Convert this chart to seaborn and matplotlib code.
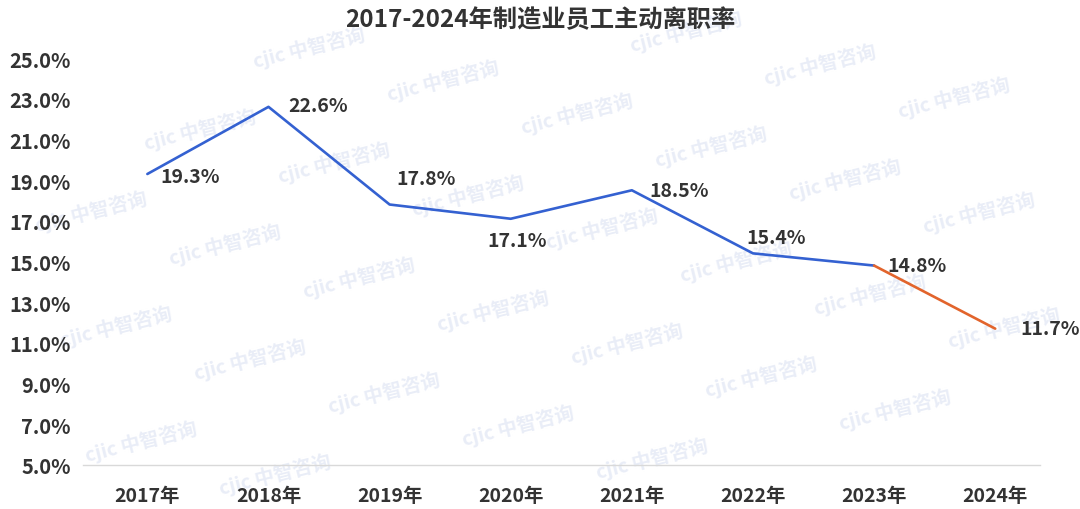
import numpy as np
import pandas as pd
import seaborn as sns
import matplotlib.pyplot as plt

# datos
years = ["2017年", "2018年", "2019年", "2020年", "2021年", "2022年", "2023年", "2024年"]
rates = [19.3, 22.6, 17.8, 17.1, 18.5, 15.4, 14.8, 11.7]
y_ticks = [5.0, 7.0, 9.0, 11.0, 13.0, 15.0, 17.0, 19.0, 21.0, 23.0, 25.0]
title = "2017-2024年制造业员工主动离职率"
watermark = "cjic 中智咨询"

# desplazamiento del borde izquierdo de cada etiqueta (pixeles)
label_offsets = [(13, -3), (20, 1), (7, 26), (-23, -22), (18, 0), (-7, 16), (13, 0), (25, 0)]

df = pd.DataFrame({"idx": range(len(years)), "year": years, "rate": rates})

sns.set_theme(style="white")
plt.rcParams["font.family"] = ["Noto Sans CJK SC", "DejaVu Sans"]

fig = plt.figure(figsize=(10.8, 5.1), dpi=100)
ax = fig.add_axes([0.077, 0.0863, 0.886, 0.798])
ax.patch.set_alpha(0)

# marca de agua (solo las que caben enteras), detras de todo
for i in range(-2, 7):
    for j in range(-3, 9):
        px = 175 + 134 * j + 25 * i
        py = 15 + 33 * j + 115 * i
        if 70 < px < 1010 and 25 < py < 490:
            fig.text(px / 1080, 1 - py / 510, watermark, rotation=14,
                     ha="center", va="center", fontsize=14, fontweight="bold",
                     color="#e9edf7", zorder=-5)

sns.lineplot(data=df.iloc[:7], x="idx", y="rate", color="#3461d1", linewidth=1.9, ax=ax)
sns.lineplot(data=df.iloc[6:], x="idx", y="rate", color="#e2642c", linewidth=1.9, ax=ax)

for x, y, (dx, dy) in zip(df["idx"], df["rate"], label_offsets):
    ax.annotate(f"{y:.1f}%", (x, y), xytext=(dx, dy), textcoords="offset pixels",
                ha="left", va="center", fontsize=14, color="#333333", fontweight="bold")

ax.set_xlim(-0.53, 7.37)
ax.set_ylim(5, 25)
ax.set_xticks(df["idx"])
ax.set_xticklabels(years)
ax.set_yticks(y_ticks)
ax.set_yticklabels([f"{v:.1f}%" for v in y_ticks])
ax.tick_params(axis="both", length=0, labelsize=14.5, colors="#333333")
ax.tick_params(axis="x", pad=15, labelsize=14)
ax.tick_params(axis="y", pad=9)
for lab in ax.get_xticklabels() + ax.get_yticklabels():
    lab.set_fontweight("bold")
ax.set_xlabel("")
ax.set_ylabel("")
sns.despine(ax=ax, left=True)
ax.spines["bottom"].set_color("#d9d9d9")
ax.spines["bottom"].set_linewidth(1)

fig.text(0.5, 1 - 20 / 510, title, ha="center", va="center", fontsize=17.5,
         fontweight="bold", color="#333333")

fig.savefig("out.png", dpi=100)
